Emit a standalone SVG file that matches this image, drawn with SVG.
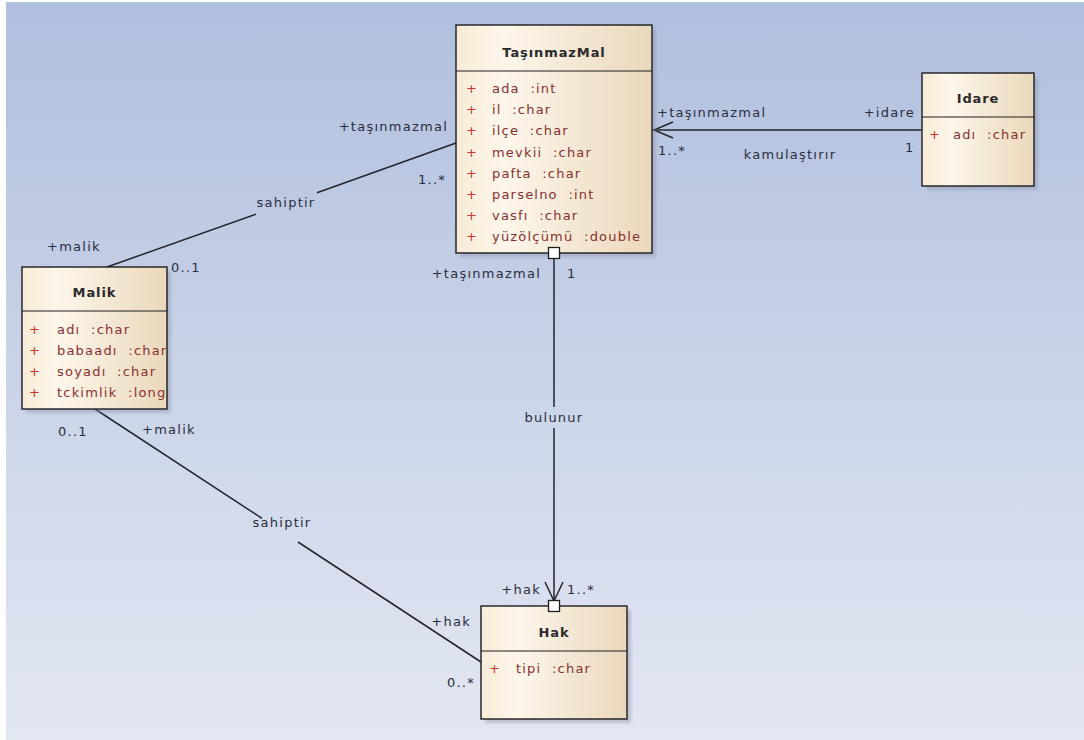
<svg xmlns="http://www.w3.org/2000/svg" width="1084" height="740" viewBox="0 0 1084 740">
  <defs>
    <linearGradient id="bg" x1="0" y1="0" x2="0" y2="740" gradientUnits="userSpaceOnUse">
      <stop offset="0" stop-color="#b0bfde"/>
      <stop offset="1" stop-color="#e3e7f2"/>
    </linearGradient>
    <linearGradient id="cls" x1="0" y1="0" x2="1" y2="0">
      <stop offset="0" stop-color="#f8ecd7"/>
      <stop offset="0.25" stop-color="#fdf6ea"/>
      <stop offset="1" stop-color="#ead8bb"/>
    </linearGradient>
    <filter id="soft" x="-10%" y="-10%" width="130%" height="130%">
      <feGaussianBlur stdDeviation="1.5"/>
    </filter>
    <clipPath id="malikClip">
      <rect x="22" y="311" width="145" height="98"/>
    </clipPath>
    <style>
      .box { fill: url(#cls); stroke: #1c1c22; stroke-width: 1.4; }
      .shadow { fill: #8d93a6; opacity: 0.45; filter: url(#soft); }
      .div { stroke: #1c1c22; stroke-width: 1.2; }
      .title { font-family: "DejaVu Sans", sans-serif; font-size: 13px; font-weight: bold; fill: #2a2a2e; text-anchor: middle; letter-spacing: 0.9px; }
      .attr { font-family: "DejaVu Sans", sans-serif; font-size: 13px; fill: #8a2f2f; letter-spacing: 1.2px; white-space: pre; }
      .plus { font-family: "DejaVu Sans", sans-serif; font-size: 13px; fill: #c8352c; }
      .lbl { font-family: "DejaVu Sans", sans-serif; font-size: 13px; fill: #2b2d40; letter-spacing: 1.25px; }
      .end { text-anchor: end; }
      .mid { text-anchor: middle; }
      .link { stroke: #25252e; stroke-width: 1.5; fill: none; }
      .port { fill: #ffffff; stroke: #1c1c22; stroke-width: 1.3; }
    </style>
  </defs>

  <!-- canvas -->
  <rect x="0" y="0" width="1084" height="740" fill="#ffffff"/>
  <rect x="6" y="2" width="1078" height="738" fill="url(#bg)"/>

  <!-- associations -->
  <g id="connectors">
    <!-- Malik - TaşınmazMal : sahiptir -->
    <path class="link" d="M107 267 L256 214.1 M317 192.7 L456 143"/>
    <!-- Malik - Hak : sahiptir -->
    <path class="link" d="M95 409 L262 518.4 M298 542 L481 662"/>
    <!-- TaşınmazMal - Hak : bulunur -->
    <path class="link" d="M554 253 L554 407 M554 428 L554 606"/>
    <path class="link" d="M545 582 L554 601 L563 582"/>
    <!-- Idare - TaşınmazMal : kamulaştırır -->
    <path class="link" d="M653 130 L922 130"/>
    <path class="link" d="M673 122 L654 130 L673 138"/>

    <!-- role and multiplicity labels -->
    <text class="lbl end" x="448" y="131">+taşınmazmal</text>
    <text class="lbl" x="418" y="184">1..*</text>
    <text class="lbl mid" x="286" y="207">sahiptir</text>
    <text class="lbl" x="47" y="251">+malik</text>
    <text class="lbl" x="171" y="272">0..1</text>

    <text class="lbl" x="58" y="436">0..1</text>
    <text class="lbl" x="142" y="434">+malik</text>
    <text class="lbl mid" x="282" y="527">sahiptir</text>
    <text class="lbl end" x="471" y="626">+hak</text>
    <text class="lbl end" x="475" y="687">0..*</text>

    <text class="lbl end" x="541" y="278">+taşınmazmal</text>
    <text class="lbl" x="567" y="278">1</text>
    <text class="lbl mid" x="554" y="422">bulunur</text>
    <text class="lbl end" x="541" y="594">+hak</text>
    <text class="lbl" x="567" y="594">1..*</text>

    <text class="lbl" x="657" y="117">+taşınmazmal</text>
    <text class="lbl end" x="915" y="117">+idare</text>
    <text class="lbl" x="658" y="155">1..*</text>
    <text class="lbl mid" x="790" y="159">kamulaştırır</text>
    <text class="lbl" x="905" y="152">1</text>
  </g>

  <!-- class TaşınmazMal -->
  <g id="TasinmazMal">
    <rect class="shadow" x="460" y="29" width="196" height="228"/>
    <rect class="box" x="456" y="25" width="196" height="228"/>
    <line class="div" x1="456" y1="71" x2="652" y2="71"/>
    <text class="title" x="554" y="56.5">TaşınmazMal</text>
    <g>
      <text class="plus" x="466" y="93">+</text>
      <text class="plus" x="466" y="114.2">+</text>
      <text class="plus" x="466" y="135.4">+</text>
      <text class="plus" x="466" y="156.6">+</text>
      <text class="plus" x="466" y="177.8">+</text>
      <text class="plus" x="466" y="199">+</text>
      <text class="plus" x="466" y="220.2">+</text>
      <text class="plus" x="466" y="241.4">+</text>
      <text class="attr" x="492" y="93" xml:space="preserve">ada  :int</text>
      <text class="attr" x="492" y="114.2" xml:space="preserve">il  :char</text>
      <text class="attr" x="492" y="135.4" xml:space="preserve">ilçe  :char</text>
      <text class="attr" x="492" y="156.6" xml:space="preserve">mevkii  :char</text>
      <text class="attr" x="492" y="177.8" xml:space="preserve">pafta  :char</text>
      <text class="attr" x="492" y="199" xml:space="preserve">parselno  :int</text>
      <text class="attr" x="492" y="220.2" xml:space="preserve">vasfı  :char</text>
      <text class="attr" x="492" y="241.4" xml:space="preserve">yüzölçümü  :double</text>
    </g>
  </g>

  <!-- class Idare -->
  <g id="Idare">
    <rect class="shadow" x="926" y="77" width="112" height="113"/>
    <rect class="box" x="922" y="73" width="112" height="113"/>
    <line class="div" x1="922" y1="117" x2="1034" y2="117"/>
    <text class="title" x="978" y="102.5">Idare</text>
    <text class="plus" x="929" y="138.5">+</text>
    <text class="attr" x="953" y="138.5" xml:space="preserve">adı  :char</text>
  </g>

  <!-- class Malik -->
  <g id="Malik">
    <rect class="shadow" x="26" y="271" width="145" height="142"/>
    <rect class="box" x="22" y="267" width="145" height="142"/>
    <line class="div" x1="22" y1="311" x2="167" y2="311"/>
    <text class="title" x="94.5" y="296.5">Malik</text>
    <g clip-path="url(#malikClip)">
      <text class="plus" x="29" y="333.5">+</text>
      <text class="plus" x="29" y="354.8">+</text>
      <text class="plus" x="29" y="376.1">+</text>
      <text class="plus" x="29" y="397.4">+</text>
      <text class="attr" x="57" y="333.5" xml:space="preserve">adı  :char</text>
      <text class="attr" x="57" y="354.8" xml:space="preserve">babaadı  :char</text>
      <text class="attr" x="57" y="376.1" xml:space="preserve">soyadı  :char</text>
      <text class="attr" x="57" y="397.4" xml:space="preserve">tckimlik  :long</text>
    </g>
  </g>

  <!-- class Hak -->
  <g id="Hak">
    <rect class="shadow" x="485" y="610" width="146" height="113"/>
    <rect class="box" x="481" y="606" width="146" height="113"/>
    <line class="div" x1="481" y1="651" x2="627" y2="651"/>
    <text class="title" x="554" y="636.5">Hak</text>
    <text class="plus" x="489" y="672.5">+</text>
    <text class="attr" x="516" y="672.5" xml:space="preserve">tipi  :char</text>
  </g>

  <!-- association end markers -->
  <g id="ports">
    <rect class="port" x="548.5" y="247.5" width="11" height="11"/>
    <rect class="port" x="548.5" y="600.5" width="11" height="11"/>
  </g>
</svg>
